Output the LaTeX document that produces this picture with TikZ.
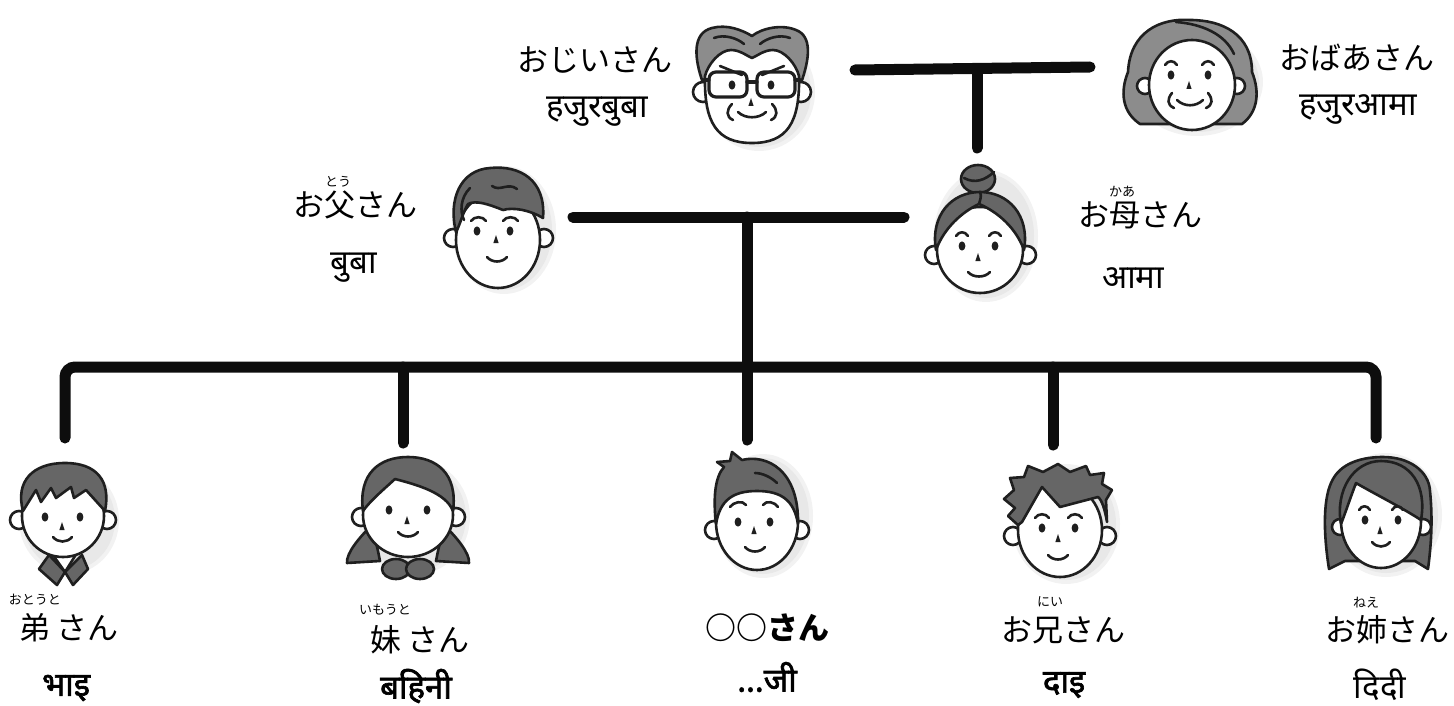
\documentclass[tikz,border=0pt]{standalone}
\usepackage{fontspec}
\newfontfamily\jp{Noto Sans CJK JP}
\newfontfamily\dev[Script=Devanagari]{Noto Sans}
\newfontfamily\devb[Script=Devanagari,FakeBold=2]{Noto Sans}

% face parts used by every head
\newcommand\eyedot[1]{\fill[black!88] (#1) ellipse [x radius=3.4, y radius=4.6];}
\newcommand\nosetip[1]{\fill[black!88] (#1) ++(-2.6,4) -- ++(2.6,-8) -- ++(2.6,8) -- cycle;}
\newcommand\mouthline[2]{\draw[ln] (#1) .. controls +(5,6) and +(-5,6) .. (#2);}
\newcommand\brow[2]{\draw[ln] (#1) .. controls +(3,-5) and +(-3,-5) .. (#2);}
% soft shadow under a head
\newcommand\headshade[3]{\fill[black!5] (#1) ellipse [x radius=#2+4, y radius=#3+4];
  \fill[black!9] (#1) ellipse [x radius=#2, y radius=#3];}

\begin{document}
\begin{tikzpicture}[x=1pt,y=-1pt,
  bar/.style={line width=11pt,line cap=round,draw=black!95},
  ln/.style={line width=2.6pt,draw=black!88,line join=round,line cap=round},
  skin/.style={ln,fill=white},
  hair/.style={ln,fill=black!60},
  oldhair/.style={ln,fill=black!45},
  jlab/.style={inner sep=0pt,font=\jp\fontsize{31}{31}\selectfont},
  ruby/.style={inner sep=0pt,font=\jp\fontsize{13}{13}\selectfont},
  dlab/.style={inner sep=0pt,font=\dev\fontsize{33}{33}\selectfont},
  dbold/.style={dlab,font=\devb\fontsize{33}{33}\selectfont}]
\useasboundingbox (0,0) rectangle (1454,706);

% --- tree lines
\coordinate (gpL) at (855,70);  \coordinate (gpR) at (1090,67);
\coordinate (gpJ) at (977,69);  \coordinate (gpS) at (977,148);
\coordinate (paL) at (573,217); \coordinate (paR) at (904,217);
\coordinate (paJ) at (747,217); \coordinate (paS) at (747,440);
\coordinate (kdL) at (65,438);  \coordinate (kdR) at (1376,438);
\coordinate (c1) at (65,367);   \coordinate (c5) at (1376,367);
\coordinate (k2) at (403,367);  \coordinate (k2e) at (403,443);
\coordinate (k4) at (1053,367); \coordinate (k4e) at (1053,445);

\draw[bar] (gpL) -- (gpR);
\draw[bar] (gpJ) -- (gpS);
\draw[bar] (paL) -- (paR);
\draw[bar] (paJ) -- (paS);
\draw[bar,rounded corners=10pt] (kdL) -- (c1) -- (c5) -- (kdR);
\draw[bar] (k2) -- (k2e);
\draw[bar] (k4) -- (k4e);

% --- grandfather
\begin{scope}[shift={(752,88)}]
  \headshade{7,4}{52}{55}
  \draw[oldhair] (-49,-5) .. controls (-58,-30) and (-60,-55) .. (-40,-60) .. controls (-25,-64) and (-10,-58) .. (0,-52) .. controls (10,-60) and (30,-64) .. (44,-58) .. controls (60,-52) and (58,-30) .. (49,-5) -- cycle;
  \draw[ln] (-38,-50) .. controls (-28,-54) and (-15,-50) .. (-8,-44);
  \draw[ln] (38,-50) .. controls (28,-54) and (15,-50) .. (8,-44);
  \draw[skin] (-49,4) circle (10);
  \draw[skin] (49,4) circle (10);
  \draw[skin] (-47,-12) .. controls (-48,35) and (-35,55) .. (0,55) .. controls (35,55) and (48,35) .. (47,-12) .. controls (44,-24) and (32,-38) .. (21,-38) .. controls (12,-38) and (5,-32) .. (0,-30) .. controls (-5,-32) and (-12,-38) .. (-21,-38) .. controls (-32,-38) and (-44,-24) .. cycle;
  \draw[ln,line width=3.2pt,rounded corners=7pt] (-43,-16) rectangle (-5,9) (5,-16) rectangle (43,9);
  \draw[ln,line width=3.2pt] (-5,-6) -- (5,-6) (-43,-8) -- (-48,-8) (43,-8) -- (48,-8);
  \draw[ln] (-32,-22) -- (-10,-13);
  \draw[ln] (32,-22) -- (10,-13);
  \eyedot{-20,-3} \eyedot{19,-3}
  \nosetip{-1,14}
  \draw[ln] (-14,24) .. controls (-7,31) and (7,31) .. (14,24);
  \draw[ln] (-20,16) .. controls (-26,22) and (-26,29) .. (-19,32);
  \draw[ln] (20,16) .. controls (26,22) and (26,29) .. (19,32);
\end{scope}

% --- grandmother
\begin{scope}[shift={(1190,80)}]
  \headshade{7,2}{62}{50}
  \draw[oldhair] (-50,44) .. controls (-68,32) and (-70,12) .. (-62,-8) .. controls (-60,-48) and (-30,-62) .. (0,-60) .. controls (32,-60) and (62,-46) .. (62,-8) .. controls (70,12) and (68,32) .. (52,44) -- cycle;
  \draw[skin] (-45,6) circle (8);
  \draw[skin] (47,6) circle (8);
  \draw[skin] (2,5) ellipse [x radius=43, y radius=45];
  \draw[ln] (-14,-58) .. controls (12,-56) and (35,-46) .. (44,-26);
  \brow{-25,-15}{-13,-15} \brow{12,-15}{24,-15}
  \eyedot{-19,-5} \eyedot{18,-5}
  \nosetip{-1,5}
  \draw[ln] (-13,20) .. controls (-6,27) and (6,27) .. (13,20);
  \draw[ln] (-18,13) .. controls (-23,19) and (-23,25) .. (-16,28);
  \draw[ln] (18,13) .. controls (23,19) and (23,25) .. (16,28);
\end{scope}

% --- father
\begin{scope}[shift={(498,240)}]
  \headshade{6,-10}{48}{60}
  \draw[skin] (-45,-2) circle (9);
  \draw[skin] (46,-2) circle (9);
  \draw[skin] (0,0) ellipse [x radius=42, y radius=48];
  \draw[hair] (-42,-8) .. controls (-50,-40) and (-38,-70) .. (-8,-72) .. controls (22,-75) and (48,-60) .. (45,-22) .. controls (32,-30) and (15,-33) .. (5,-30) .. controls (-10,-36) and (-22,-40) .. (-30,-36) .. controls (-35,-28) and (-38,-15) .. cycle;
  \draw[ln] (-6,-54) .. controls (2,-48) and (10,-58) .. (19,-51);
  \draw[ln] (-28,-52) .. controls (-38,-42) and (-38,-28) .. (-34,-20);
  \brow{-27,-19}{-12,-19} \brow{5,-19}{20,-19}
  \eyedot{-21,-9} \eyedot{12,-9}
  \nosetip{-2,-1}
  \mouthline{-11,17}{9,17}
\end{scope}

% --- mother
\begin{scope}[shift={(980,250)}]
  \headshade{6,-14}{48}{62}
  \draw[hair] (-2,-71) ellipse [x radius=17, y radius=14];
  \draw[ln] (-16,-72) .. controls (-5,-66) and (5,-70) .. (14,-78);
  \draw[skin] (-46,5) circle (9);
  \draw[skin] (47,5) circle (9);
  \draw[skin] (0,0) ellipse [x radius=43, y radius=43];
  \draw[hair] (-44,0) .. controls (-50,-35) and (-28,-58) .. (0,-58) .. controls (28,-58) and (50,-35) .. (44,0) .. controls (36,-22) and (18,-38) .. (-1,-46) .. controls (-18,-38) and (-36,-22) .. cycle;
  \draw[ln] (-1,-46) .. controls (0,-50) and (2,-54) .. (0,-58);
  \brow{-24,-14}{-12,-14} \brow{9,-14}{21,-14}
  \eyedot{-18,-4} \eyedot{15,-4}
  \nosetip{-2,7}
  \mouthline{-12,22}{10,22}
\end{scope}

% --- younger brother
\begin{scope}[shift={(63,516)}]
  \headshade{6,4}{46}{50}
  \draw[skin] (-15,32) -- (17,32) -- (2,56) -- cycle;
  \draw[hair] (-14,39) -- (2,56) -- (-6,69) -- (-24,53) -- cycle;
  \draw[hair] (19,39) -- (2,56) -- (10,69) -- (25,53) -- cycle;
  \draw[skin] (-44,4) circle (9);
  \draw[skin] (44,4) circle (9);
  \draw[skin] (0,0) ellipse [x radius=41, y radius=41];
  \draw[hair] (-40,-5) .. controls (-48,-35) and (-30,-53) .. (2,-53) .. controls (34,-53) and (48,-35) .. (42,-5) -- (23,-26) -- (11,-18) -- (8,-29) -- (-7,-18) -- (-12,-28) -- (-22,-14) -- (-27,-26) -- cycle;
  \eyedot{-18,1} \eyedot{17,1}
  \nosetip{-1,10}
  \mouthline{-10,21}{9,21}
\end{scope}

% --- younger sister
\begin{scope}[shift={(408,515)}]
  \headshade{6,2}{52}{54}
  \draw[hair] (-38,12) .. controls (-48,22) and (-62,38) .. (-61,48) -- (-28,46) .. controls (-30,36) and (-32,24) .. cycle;
  \draw[hair] (38,12) .. controls (48,22) and (62,38) .. (61,48) -- (28,46) .. controls (30,36) and (32,24) .. cycle;
  \draw[hair] (-12,54) ellipse [x radius=14, y radius=10];
  \draw[hair] (12,54) ellipse [x radius=14, y radius=10];
  \draw[skin] (-47,2) circle (9);
  \draw[skin] (48,2) circle (9);
  \draw[skin] (0,0) ellipse [x radius=45, y radius=42];
  \draw[hair] (-45,-4) .. controls (-50,-42) and (-28,-58) .. (0,-58) .. controls (28,-58) and (50,-42) .. (45,-4) .. controls (38,-22) and (10,-30) .. (-13,-36) .. controls (-25,-25) and (-38,-14) .. cycle;
  \eyedot{-19,-5} \eyedot{19,-5}
  \nosetip{-1,5}
  \mouthline{-10,17}{10,17}
\end{scope}

% --- self
\begin{scope}[shift={(757,522)}]
  \headshade{6,-6}{46}{58}
  \draw[skin] (-43,8) circle (9);
  \draw[skin] (43,8) circle (9);
  \draw[skin] (0,0) ellipse [x radius=41, y radius=48];
  \draw[hair] (-41,2) .. controls (-44,-25) and (-42,-45) .. (-33,-55) -- (-40,-60) -- (-27,-61) -- (-25,-70) -- (-15,-62) .. controls (10,-68) and (42,-52) .. (41,2) .. controls (37,-22) and (24,-31) .. (0,-31) .. controls (-24,-31) and (-37,-22) .. cycle;
  \draw[ln] (-2,-49) .. controls (5,-49) and (14,-45) .. (20,-39);
  \brow{-27,-15}{-11,-17} \brow{6,-17}{21,-15}
  \eyedot{-19,0} \eyedot{13,0}
  \nosetip{-3,8}
  \mouthline{-12,25}{8,25}
\end{scope}

% --- elder brother
\begin{scope}[shift={(1060,530)}]
  \headshade{6,-6}{50}{56}
  \draw[skin] (-47,6) circle (9);
  \draw[skin] (47,6) circle (9);
  \draw[skin] (0,0) ellipse [x radius=42, y radius=47];
  \draw[hair] (-42,-5) -- (-52,-14) -- (-45,-22) -- (-56,-31) -- (-46,-40) -- (-50,-52) -- (-36,-53) -- (-32,-64) -- (-17,-58) -- (-2,-66) -- (10,-58) -- (26,-64) -- (30,-55) -- (44,-57) -- (42,-46) -- (52,-40) -- (46,-30) -- (47,-8) .. controls (45,-20) and (42,-30) .. (38,-33) -- (0,-23) -- (-18,-43) -- (-38,-8) -- cycle;
  \brow{-25,-12}{-11,-12} \brow{8,-12}{22,-12}
  \eyedot{-18,-2} \eyedot{15,-2}
  \nosetip{-2,8}
  \mouthline{-12,25}{8,25}
\end{scope}

% --- elder sister
\begin{scope}[shift={(1381,521)}]
  \headshade{5,-6}{52}{58}
  \draw[hair] (-36,40) -- (-52,48) .. controls (-58,10) and (-58,-25) .. (-48,-42) .. controls (-38,-60) and (-15,-64) .. (2,-64) .. controls (28,-64) and (48,-50) .. (49,-30) .. controls (52,0) and (50,25) .. (47,48) -- (34,40) -- cycle;
  \draw[skin] (-41,6) circle (8);
  \draw[skin] (42,6) circle (8);
  \draw[skin] (0,0) ellipse [x radius=40, y radius=47];
  \draw[hair] (-40,3) .. controls (-46,-30) and (-28,-60) .. (0,-60) .. controls (30,-60) and (46,-35) .. (40,-1) .. controls (20,-14) and (-8,-28) .. (-25,-38) .. controls (-30,-25) and (-35,-10) .. cycle;
  \brow{-22,-11}{-11,-11} \brow{11,-11}{22,-11}
  \eyedot{-16,-1} \eyedot{17,-1}
  \nosetip{-1,9}
  \mouthline{-9,21}{9,21}
\end{scope}

% --- names
\node[jlab] (gpa) at (595,60) {おじいさん};
\node[dlab] (gpaN) at (597,112) {हजुरबुबा};
\node[jlab] (gma) at (1357,58) {おばあさん};
\node[dlab] (gmaN) at (1358,109) {हजुरआमा};
\node[jlab] (dad) at (355,205) {お父さん};
\node[ruby] (dadR) at (338,182) {とう};
\node[dlab] (dadN) at (354,268) {बुबा};
\node[jlab] (mom) at (1140,215) {お母さん};
\node[ruby] (momR) at (1122,192) {かあ};
\node[dlab] (momN) at (1133,278) {आमा};
\node[jlab] (yb) at (69,628) {弟 さん};
\node[ruby] (ybR) at (35,600) {おとうと};
\node[dbold] (ybN) at (66,688) {भाइ};
\node[jlab] (ys) at (420,640) {妹 さん};
\node[ruby] (ysR) at (385,610) {いもうと};
\node[dbold] (ysN) at (416,686) {बहिनी};
\node[jlab,font=\jp\bfseries\fontsize{31}{31}\selectfont] (me) at (767,628) {○○さん};
\node[dbold] (meN) at (767,677) {...जी};
\node[dbold] (ebN) at (1064,685) {दाइ};
\node[jlab] (eb) at (1063,630) {お兄さん};
\node[ruby] (ebR) at (1050,602) {にい};
\node[jlab] (es) at (1387,630) {お姉さん};
\node[ruby] (esR) at (1366,603) {ねえ};
\node[dlab] (esN) at (1380,685) {दिदी};
\end{tikzpicture}
\end{document}
